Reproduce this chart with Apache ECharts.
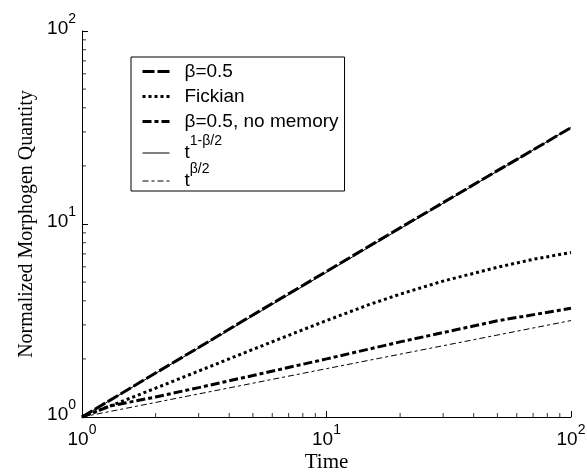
<!DOCTYPE html>
<html><head><meta charset="utf-8">
<script src="https://cdn.jsdelivr.net/npm/echarts@6/dist/echarts.min.js"></script>
<style>html,body{margin:0;padding:0;background:#fff}#c{width:587px;height:473px}</style>
</head><body><div id="c"></div>
<script>
// ---- data (log-log plot) ----
const tBeta   = [1, 2, 3, 5, 10, 20, 30, 50, 70, 100];
const qBeta   = [1, 1.69, 2.29, 3.38, 5.68, 9.55, 12.9, 18.9, 24.2, 31.6];

const tFick   = [1, 2, 3, 5, 7, 10, 15, 20, 30, 50, 70, 100];
const qFick   = [1, 1.41, 1.73, 2.24, 2.65, 3.16, 3.83, 4.33, 5.06, 5.97, 6.56, 7.12];

const tNoMem  = [1, 1.3, 2, 3, 5, 10, 20, 50, 100];
const qNoMem  = [1, 1.14, 1.27, 1.42, 1.64, 2.0, 2.45, 3.15, 3.66];

const tFit    = [1, 10, 100];
const qFast   = [1, 5.62, 31.6];   // t^(1-β/2)
const qSlow   = [1, 1.78, 3.16];   // t^(β/2)

const minorTickValues = [2, 3, 4, 5, 6, 7, 8, 9, 20, 30, 40, 50, 60, 70, 80, 90];

const seriesNames = ['β=0.5', 'Fickian', 'β=0.5, no memory', 't^(1-β/2)', 't^(β/2)'];
const legendLabels = {
  'β=0.5': '{p|β=0.5}',
  'Fickian': '{p|Fickian}',
  'β=0.5, no memory': '{p|β=0.5, no memory}',
  't^(1-β/2)': '{b|t}{s|1-β/2}',
  't^(β/2)': '{b|t}{s|β/2}'
};

const zip = (xs, ys) => xs.map((x, i) => [x, ys[i]]);

const sansFont = 'Liberation Sans, Arial, sans-serif';
const serifFont = 'Liberation Serif, Times New Roman, serif';

const tickRich = {
  b: { fontFamily: sansFont, fontSize: 19, lineHeight: 19, color: '#000', verticalAlign: 'bottom' },
  s: { fontFamily: sansFont, fontSize: 14, lineHeight: 14, color: '#000', verticalAlign: 'bottom', padding: [0, 0, 12, 0] }
};
const tickFmt = v => '{b|10}{s|' + Math.round(Math.log10(v)) + '}';

const styles = [
  { width: 3, type: [12, 3] },
  { width: 3, type: [3, 3] },
  { width: 3, type: [9, 3, 4, 3] },
  { width: 1, type: 'solid' },
  { width: 1, type: [6, 3, 3, 3] }
];
const datasets = [zip(tBeta, qBeta), zip(tFick, qFick), zip(tNoMem, qNoMem), zip(tFit, qFast), zip(tFit, qSlow)];

const chart = echarts.init(document.getElementById('c'), null, { renderer: 'canvas' });

const lineSeries = seriesNames.map((name, i) => ({
  name, type: 'line', data: datasets[i], symbol: 'none', showSymbol: false, smooth: false,
  lineStyle: { color: '#000', width: styles[i].width, type: styles[i].type, cap: 'butt' },
  itemStyle: { color: '#000' }, emphasis: { disabled: true }, z: 3
}));

chart.setOption({
  animation: false,
  backgroundColor: '#fff',
  grid: { left: 82, right: 16, top: 31, bottom: 56, containLabel: false, outerBoundsMode: 'none' },
  xAxis: {
    type: 'log', logBase: 10, min: 1, max: 100,
    name: 'Time', nameLocation: 'middle', nameGap: 35, nameMoveOverlap: false,
    nameTextStyle: { fontFamily: serifFont, fontSize: 21, color: '#000' },
    axisLine: { show: true, lineStyle: { color: '#000', width: 1 } },
    axisTick: { show: true, inside: true, length: 6, lineStyle: { color: '#000' } },
    axisLabel: { formatter: tickFmt, rich: tickRich, margin: 13, color: '#000' },
    splitLine: { show: false }
  },
  yAxis: {
    type: 'log', logBase: 10, min: 1, max: 100,
    name: 'Normalized Morphogen Quantity', nameLocation: 'middle', nameGap: 45, nameMoveOverlap: false,
    nameTextStyle: { fontFamily: serifFont, fontSize: 20, color: '#000' },
    axisLine: { show: true, lineStyle: { color: '#000', width: 1 } },
    axisTick: { show: true, inside: true, length: 6, lineStyle: { color: '#000' } },
    axisLabel: { formatter: tickFmt, rich: tickRich, margin: 6, color: '#000', padding: [0, 0, 5, 0] },
    splitLine: { show: false }
  },
  legend: {
    data: seriesNames.map((name, i) => ({
      name, lineStyle: { color: '#000', width: styles[i].width, type: styles[i].type, cap: 'butt' }
    })),
    orient: 'vertical', left: 131, top: 57,
    padding: [2, 6, 1, 10], itemGap: 0,
    itemWidth: 27, itemHeight: 14,
    borderColor: '#000', borderWidth: 1, backgroundColor: '#fff',
    selectedMode: false, itemStyle: { opacity: 0 },
    formatter: n => legendLabels[n],
    textStyle: { color: '#000', rich: {
      p: { fontFamily: sansFont, fontSize: 19, lineHeight: 19, color: '#000', verticalAlign: 'middle', padding: [3, 0, 3, 10] },
      b: { fontFamily: sansFont, fontSize: 19, lineHeight: 18, color: '#000', verticalAlign: 'bottom', padding: [0, 0, 0, 10] },
      s: { fontFamily: sansFont, fontSize: 14, lineHeight: 9, color: '#000', verticalAlign: 'bottom', padding: [0, 0, 14, 0] }
    } }
  },
  series: lineSeries.concat([
    { name: 'xMinorTicks', type: 'scatter', silent: true, clip: false, z: 2,
      data: minorTickValues.map(v => [v, 1]), symbol: 'rect', symbolSize: [1, 4], symbolOffset: [0, -2],
      itemStyle: { color: '#000' }, emphasis: { disabled: true } },
    { name: 'yMinorTicks', type: 'scatter', silent: true, clip: false, z: 2,
      data: minorTickValues.map(v => [1, v]), symbol: 'rect', symbolSize: [4, 1], symbolOffset: [2, 0],
      itemStyle: { color: '#000' }, emphasis: { disabled: true } }
  ])
});
</script>
</body></html>
